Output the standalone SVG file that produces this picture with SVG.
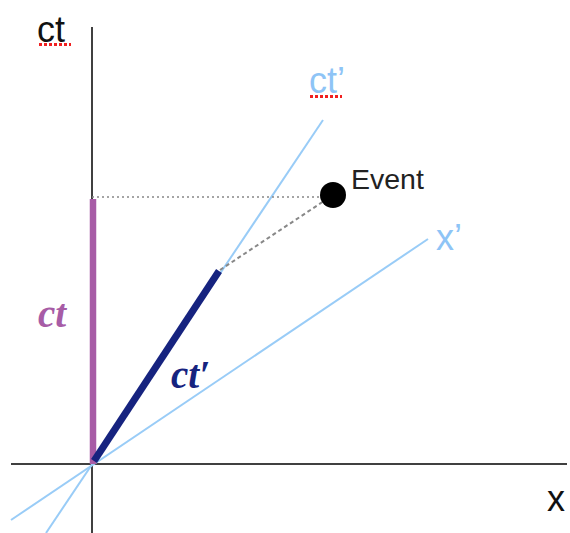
<svg xmlns="http://www.w3.org/2000/svg" width="570" height="533" viewBox="0 0 570 533">
<style>
.axis{stroke:#000;stroke-width:1.5;fill:none}
.prime{stroke:#99ccf7;stroke-width:2;fill:none}
.lbl{font-family:"Liberation Sans",Arial,sans-serif;font-size:36px}
.mth{font-family:"Liberation Serif","Times New Roman",serif;font-style:italic;font-weight:bold;font-size:39px}
.spell{stroke:#f02020;stroke-width:3;stroke-dasharray:3 2;fill:none}
</style>
<rect width="570" height="533" fill="#fff"/>
<g id="connectors">
<line class="axis" x1="92" y1="27" x2="92" y2="533"/>
<line class="axis" x1="11" y1="464" x2="567" y2="464"/>
<line class="prime" x1="46" y1="533" x2="323" y2="120"/>
<line class="prime" x1="11" y1="520" x2="428" y2="239"/>
<line x1="92" y1="197" x2="330" y2="197" stroke="#888" stroke-width="1.3" stroke-dasharray="2 3"/>
<line x1="220" y1="270" x2="333" y2="195" stroke="#888" stroke-width="2" stroke-dasharray="4 3"/>
<line x1="93" y1="199" x2="93" y2="464" stroke="#a75ca6" stroke-width="6.5"/>
<line x1="94" y1="461" x2="219" y2="271" stroke="#16237f" stroke-width="7"/>
</g>
<g id="event">
<circle cx="333" cy="195" r="13" fill="#000"/>
<text x="351" y="189" font-family="'Liberation Sans',Arial,sans-serif" font-size="28.5" fill="#222">Event</text>
</g>
<g id="label-ct-axis">
<text class="lbl" x="37" y="42" fill="#111">ct</text>
<line class="spell" x1="39" y1="44.5" x2="71" y2="44.5"/>
</g>
<g id="label-ctp-axis">
<text class="lbl" x="309" y="93" fill="#8ec4f6">ct’</text>
<line class="spell" x1="310" y1="96.5" x2="342" y2="96.5"/>
</g>
<g id="label-xp"><text class="lbl" x="436" y="250" fill="#8ec4f6">x’</text></g>
<g id="label-x"><text class="lbl" x="547" y="511" fill="#111">x</text></g>
<g id="label-ct"><text class="mth" x="38" y="327" fill="#a75ca6">ct</text></g>
<g id="label-ctp"><text class="mth" x="171" y="388" fill="#16237f">ct′</text></g>
</svg>
